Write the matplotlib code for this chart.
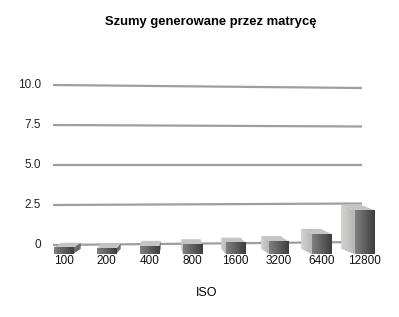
import matplotlib.pyplot as plt
import numpy as np
from matplotlib.colors import LinearSegmentedColormap

# dane
iso_labels = ['100', '200', '400', '800', '1600', '3200', '6400', '12800']
noise = [0.38, 0.33, 0.5, 0.6, 0.7, 0.8, 1.25, 2.75]
grid_values = [0, 2.5, 5.0, 7.5, 10.0]
grid_labels = ['0', '2.5', '5.0', '7.5', '10.0']

plt.rcParams['font.family'] = ['Liberation Sans', 'DejaVu Sans']


def main():
    fig = plt.figure(figsize=(3.99, 3.17), dpi=100)
    ax = fig.add_axes([42 / 399, 48 / 317, 344 / 399, 200 / 317])

    # linie siatki (lekka perspektywa)
    for g, lab in zip(grid_values, grid_labels):
        ax.plot([-0.244, 6.94], [g, g - (g - 5) * 0.0375], color='#9e9e9a',
                lw=1.6, solid_capstyle='butt', zorder=1)
        ax.text(-0.52, g, lab, ha='right', va='center', fontsize=8.5, color='#222222')

    # slupki 3D
    front_cmap = LinearSegmentedColormap.from_list('front', ['#808080', '#3e3e3e'])
    side_cmap = LinearSegmentedColormap.from_list('side', ['#d2d4d2', '#b4b6b4'])
    base = -0.56
    w = 0.45
    dy = 0.32
    grad = np.linspace(0, 1, 50).reshape(1, -1)
    for i, v in enumerate(noise):
        x0 = i - w / 2
        x1 = i + w / 2
        b = base
        t = base + v
        dx = 0.07 * (2.5 - i)
        z = 3 + i
        # bok
        if dx < 0:
            side = ax.fill([x0, x0, x0 + dx, x0 + dx], [b, t, t + dy, b + dy],
                           color='#c6c8c6', lw=0, zorder=z)[0]
            im = ax.imshow(grad, extent=[x0 + dx, x0, b, t + dy], aspect='auto',
                           cmap=side_cmap, zorder=z + 0.1)
            im.set_clip_path(side)
        else:
            ax.fill([x1, x1, x1 + dx, x1 + dx], [b, t, t + dy, b + dy],
                    color='#6a6a6a', lw=0, zorder=z)
        # gora
        ax.fill([x0, x1, x1 + dx, x0 + dx], [t, t, t + dy, t + dy],
                color='#c4c4c4', lw=0, zorder=z + 0.2)
        # przod
        ax.imshow(grad, extent=[x0, x1, b, t], aspect='auto', cmap=front_cmap,
                  zorder=z + 0.5)
        ax.text(i, -1.0, iso_labels[i], ha='center', va='center', fontsize=8.5,
                color='#111111')

    ax.set_xlim(-0.5, 7.5)
    ax.set_ylim(-1.5, 11)
    ax.axis('off')

    fig.text(211 / 399, 1 - 22 / 317, 'Szumy generowane przez matrycę',
             ha='center', va='center', fontsize=9.4, fontweight='bold')
    fig.text(207 / 399, 1 - 293 / 317, 'ISO', ha='center', va='center', fontsize=9)

    fig.savefig('out.png', dpi=100)


if __name__ == '__main__':
    main()
